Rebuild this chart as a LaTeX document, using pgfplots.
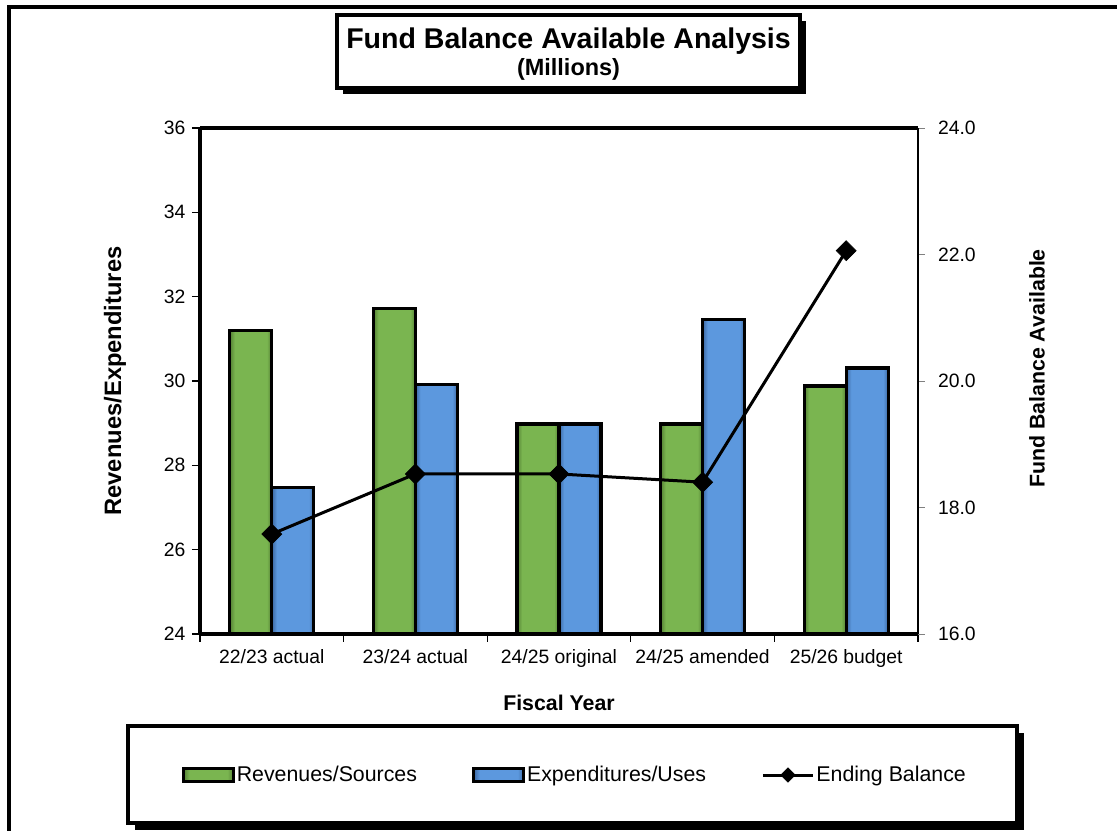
\documentclass[border=0pt]{standalone}
\usepackage{fontspec}
\setmainfont{Liberation Sans}
\usepackage{pgfplots}
\pgfplotsset{compat=1.18}

\definecolor{revgreen}{RGB}{122,181,80}
\definecolor{revgreendark}{RGB}{84,128,52}
\definecolor{expblue}{RGB}{92,152,222}
\definecolor{expbluedark}{RGB}{60,104,162}

% bevelled bar faces: darker strips at the left and right edges
\pgfdeclarehorizontalshading{greenbar}{100bp}{%
  color(0bp)=(revgreendark); color(25bp)=(revgreendark); color(31bp)=(revgreen);
  color(69bp)=(revgreen); color(75bp)=(revgreendark); color(100bp)=(revgreendark)}
\pgfdeclarehorizontalshading{bluebar}{100bp}{%
  color(0bp)=(expbluedark); color(25bp)=(expbluedark); color(31bp)=(expblue);
  color(69bp)=(expblue); color(75bp)=(expbluedark); color(100bp)=(expbluedark)}

\pgfplotsset{
  revbar/.style={ybar, bar width=31.5pt, bar shift=-15.75pt, shading=greenbar,
    draw=black, line width=2.5pt},
  expbar/.style={ybar, bar width=31.5pt, bar shift=15.75pt, shading=bluebar,
    draw=black, line width=2.5pt},
  barlegend/.style={legend image code/.code={%
      \draw[##1] (0pt,-5pt) rectangle (37.5pt,5pt);}},
  linelegend/.style={legend image code/.code={%
      \draw[mark repeat=2,mark phase=2,##1,mark size=3.8pt]
        plot coordinates {(0pt,0pt) (18.75pt,0pt) (37.5pt,0pt)};}},
  common/.style={
    at={(150pt,147.75pt)}, anchor=south west,
    width=538.5pt, height=379.5pt, scale only axis,
    xmin=-0.5, xmax=4.5,
    /pgf/number format/assume math mode=true,
    tick label style={font=\fontsize{14.5}{17}\selectfont},
    label style={font=\bfseries\fontsize{16}{19}\selectfont},
  },
}

\begin{document}
\begin{tikzpicture}
\useasboundingbox (0,0) rectangle (837.75pt,623.25pt);

% outer frame
\draw[line width=3pt] (860pt,618pt) -- (6.75pt,618pt) -- (6.75pt,-20pt);

% title box with drop shadow
\fill[black] (257.25pt,552.75pt) rectangle (604.5pt,607.5pt);
\draw[line width=3pt, fill=white] (252.75pt,557.25pt) rectangle (600pt,612pt);
\node[font=\bfseries\fontsize{21.4}{24}\selectfont] at (426.4pt,592.6pt) {Fund Balance Available Analysis};
\node[font=\bfseries\fontsize{17.6}{20}\selectfont] at (426.4pt,570.9pt) {(Millions)};

% legend box with drop shadow
\fill[black] (101.25pt,0.75pt) rectangle (768pt,73.5pt);
\draw[line width=3pt, fill=white] (96pt,6pt) rectangle (762.75pt,78.75pt);

% revenues and expenditures (left axis); one plot per bar so each bar gets its own bevel
\begin{axis}[common,
  ymin=24, ymax=36, ytick={24,26,...,36},
  xtick={0,1,2,3,4},
  xticklabels={22/23 actual, 23/24 actual, 24/25 original, 24/25 amended, 25/26 budget},
  minor xtick={-0.5,0.5,...,4.5},
  axis x line*=box, axis y line*=left,
  xtick pos=left,
  axis line style={line width=3pt},
  major x tick style={draw=none},
  minor x tick style={black, line width=0.8pt},
  minor tick length=6pt,
  y tick style={black, line width=0.8pt},
  major tick length=6pt,
  tick align=outside,
  xticklabel style={yshift=-2pt},
  yticklabel style={xshift=-1.5pt},
  ylabel={Revenues/Expenditures},
  ylabel style={at={(axis description cs:-0.1184,0.5)}, anchor=center,
    font=\bfseries\fontsize{17.8}{20}\selectfont},
  xlabel={Fiscal Year},
  xlabel style={at={(axis description cs:0.5,-0.1364)}, anchor=center},
]
% Revenues/Sources
\addplot[revbar] coordinates {(0,31.20)};
\addplot[revbar] coordinates {(1,31.72)};
\addplot[revbar] coordinates {(2,28.98)};
\addplot[revbar] coordinates {(3,28.98)};
\addplot[revbar] coordinates {(4,29.88)};
% Expenditures/Uses
\addplot[expbar] coordinates {(0,27.47)};
\addplot[expbar] coordinates {(1,29.92)};
\addplot[expbar] coordinates {(2,28.98)};
\addplot[expbar] coordinates {(3,31.46)};
\addplot[expbar] coordinates {(4,30.31)};
\end{axis}

% ending balance (right axis)
\begin{axis}[common,
  ymin=16, ymax=24, ytick={16,18,...,24},
  axis y line*=right, axis x line=none,
  axis line style={line width=1.5pt},
  y tick style={gray, line width=0.6pt},
  major tick length=5pt, tick align=outside,
  yticklabel style={xshift=6.5pt, /pgf/number format/.cd, fixed, fixed zerofill, precision=1},
  ylabel={Fund Balance Available},
  ylabel style={at={(axis description cs:1.1657,0.5247)}, anchor=center, rotate=0},
  legend columns=3,
  legend style={draw=none, fill=none, at={(0.5223,-0.2787)}, anchor=center,
    font=\fontsize{16}{19}\selectfont,
    nodes={inner xsep=1.5pt},
    /tikz/every even column/.append style={column sep=40pt}},
]
\addlegendimage{barlegend, shading=greenbar, draw=black, line width=2pt}
\addlegendentry{Revenues/Sources}
\addlegendimage{barlegend, shading=bluebar, draw=black, line width=2pt}
\addlegendentry{Expenditures/Uses}
\addplot[linelegend, black, line width=2.25pt, mark=square*, mark size=5.3pt,
  mark options={rotate=45, solid, line width=0.5pt}]
  coordinates {(0,17.58) (1,18.53) (2,18.53) (3,18.40) (4,22.06)};
\addlegendentry{Ending Balance}
\end{axis}
\end{tikzpicture}
\end{document}
